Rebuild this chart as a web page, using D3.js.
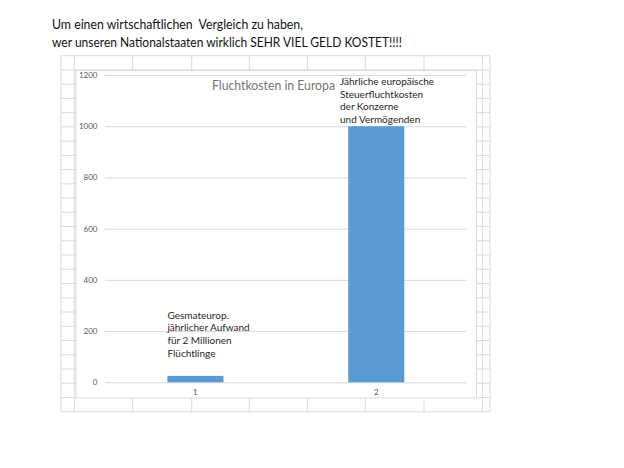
<!DOCTYPE html>
<html>
<head>
<meta charset="utf-8">
<script src="https://cdn.jsdelivr.net/npm/d3@7"></script>
<style>
  body { margin: 0; background: #fff; }
  svg { display: block; }
</style>
</head>
<body>
<div id="the_chart"></div>
<script>
// chart values
var categories = ["1", "2"];
var values = [25, 1000];
var yTicks = [0, 200, 400, 600, 800, 1000, 1200];
var chartTitle = "Fluchtkosten in Europa";
var headerLines = [
  "Um einen wirtschaftlichen  Vergleich zu haben,",
  "wer unseren Nationalstaaten wirklich SEHR VIEL GELD KOSTET!!!!"
];
var noteLeft = ["Gesmateurop.", "jährlicher Aufwand", "für 2 Millionen", "Flüchtlinge"];
var noteRight = ["Jährliche europäische", "Steuerfluchtkosten", "der Konzerne", "und Vermögenden"];

var w = 624;
var h = 468;
var font = "Lato, 'Open Sans', sans-serif";

var svg = d3.select("#the_chart")
  .append("svg")
  .attr("width", w)
  .attr("height", h);

// header text above the sheet (squeezed to the narrow source font)
var headerWidths = [251, 350];
svg.selectAll("text.header")
  .data(headerLines)
  .enter().append("text")
  .attr("class", "header")
  .attr("x", 52)
  .attr("y", function (d, i) { return 29 + i * 18; })
  .attr("font-family", font)
  .attr("font-size", 14)
  .attr("fill", "#111")
  .attr("textLength", function (d, i) { return headerWidths[i]; })
  .attr("lengthAdjust", "spacingAndGlyphs")
  .style("white-space", "pre")
  .text(function (d) { return d; });

// spreadsheet cells behind the chart
var cols = [61, 74.3, 132.7, 191.7, 249.3, 307.3, 365.3, 424, 482.3, 490];
var rowTop = 55.7, rowH = 14.24, nRows = 25;
var sheet = svg.append("g").attr("stroke", "#dadada").attr("stroke-width", 1);
sheet.selectAll("line.col")
  .data(cols)
  .enter().append("line")
  .attr("x1", function (d) { return d; })
  .attr("x2", function (d) { return d; })
  .attr("y1", rowTop)
  .attr("y2", rowTop + nRows * rowH);
sheet.selectAll("line.row")
  .data(d3.range(nRows + 1))
  .enter().append("line")
  .attr("x1", cols[0])
  .attr("x2", cols[cols.length - 1])
  .attr("y1", function (d) { return rowTop + d * rowH; })
  .attr("y2", function (d) { return rowTop + d * rowH; });

// chart box
svg.append("rect")
  .attr("x", 76)
  .attr("y", 70.5)
  .attr("width", 400.5)
  .attr("height", 327.5)
  .attr("fill", "#fff")
  .attr("stroke", "#d9d9d9");

var left = 105, right = 466.7;
var y = d3.scaleLinear()
  .domain([0, 1200])
  .range([382.3, 75]);

var x = d3.scaleBand()
  .domain(categories)
  .range([left, right])
  .paddingInner(0.69)
  .paddingOuter(0.345);

var yaxis = d3.axisLeft(y)
  .tickValues(yTicks)
  .tickFormat(d3.format("d"))
  .tickSizeInner(-(right - left))
  .tickSizeOuter(0)
  .tickPadding(7.5);

var gY = svg.append("g")
  .attr("transform", "translate(" + left + ",0)")
  .call(yaxis);
gY.select(".domain").remove();
gY.selectAll(".tick line").attr("stroke", "#d9d9d9");
gY.selectAll(".tick text")
  .attr("fill", "#595959")
  .attr("font-family", font)
  .attr("font-size", 8);

var xaxis = d3.axisBottom(x)
  .tickSize(0)
  .tickPadding(7);

var gX = svg.append("g")
  .attr("transform", "translate(0," + y(0) + ")")
  .call(xaxis);
gX.select(".domain").remove();
gX.selectAll(".tick text")
  .attr("fill", "#595959")
  .attr("font-family", font)
  .attr("font-size", 8);

svg.selectAll("rect.bar")
  .data(values)
  .enter().append("rect")
  .attr("class", "bar")
  .attr("x", function (d, i) { return x(categories[i]); })
  .attr("width", x.bandwidth())
  .attr("y", function (d) { return y(d); })
  .attr("height", function (d) { return y(0) - y(d); })
  .attr("fill", "#5b9bd5");

svg.append("text")
  .attr("x", 212)
  .attr("y", 90)
  .attr("font-family", font)
  .attr("font-size", 13.5)
  .attr("fill", "#757575")
  .attr("textLength", 123)
  .attr("lengthAdjust", "spacingAndGlyphs")
  .text(chartTitle);

svg.selectAll("text.noteL")
  .data(noteLeft)
  .enter().append("text")
  .attr("class", "noteL")
  .attr("x", x("1"))
  .attr("y", function (d, i) { return 318.5 + i * 12.8; })
  .attr("font-family", font)
  .attr("font-size", 10)
  .attr("fill", "#262626")
  .text(function (d) { return d; });

svg.selectAll("text.noteR")
  .data(noteRight)
  .enter().append("text")
  .attr("class", "noteR")
  .attr("x", 340)
  .attr("y", function (d, i) { return 85 + i * 12.7; })
  .attr("font-family", font)
  .attr("font-size", 10)
  .attr("fill", "#262626")
  .text(function (d) { return d; });
</script>
</body>
</html>
